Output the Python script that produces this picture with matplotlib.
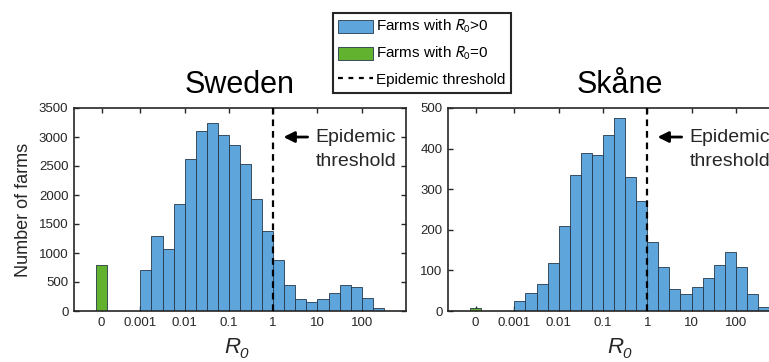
import numpy as np
import matplotlib
matplotlib.use("Agg")
import matplotlib.pyplot as plt
import matplotlib.transforms as mtransforms
from matplotlib.patches import Patch
from matplotlib.lines import Line2D

plt.rcParams['font.family'] = ['Liberation Sans', 'DejaVu Sans']

# histogram counts, bins of width 0.25 in log10(R0) starting at R0 = 0.001
sweden_counts = [700, 1300, 1070, 1840, 2620, 3100, 3250, 3030, 2860, 2530, 1930, 1380,
                 880, 440, 210, 150, 200, 310, 440, 420, 230, 55]
skane_counts = [25, 45, 67, 118, 210, 335, 390, 384, 434, 475, 330, 272,
                169, 109, 53, 41, 58, 82, 113, 145, 109, 41, 11]
sweden_zero = 790
skane_zero = 8

bin_width = 0.25
first_edge = -3.0          # log10(0.001)
zero_edge = -4.0           # where the R0=0 bar is drawn
threshold = 0.0            # log10(1)

tick_pos = [-3.875, -3, -2, -1, 0, 1, 2]
tick_labels = ['0', '0.001', '0.01', '0.1', '1', '10', '100']

blue = '#5DA5DA'
green = '#62B22F'
edge = '#24374A'
dark = '#262626'
dash = (0, (3, 2.2))

fig = plt.figure(figsize=(7.69, 3.62), dpi=100)
ax1 = fig.add_axes([74 / 769, 51 / 362, 332 / 769, 203 / 362])
ax2 = fig.add_axes([448 / 769, 51 / 362, 344 / 769, 203 / 362])


def r0_label(ax, xfrac):
    # italic R with italic subscript 0, drawn as two texts
    base = ax.transAxes
    ax.text(xfrac, -0.205, 'R', transform=mtransforms.offset_copy(base, fig, x=2, y=0, units='dots'),
            fontsize=16, fontstyle='italic', ha='right', va='baseline', color=dark,
            clip_on=False)
    ax.text(xfrac, -0.205, '0', transform=mtransforms.offset_copy(base, fig, x=1, y=-5, units='dots'),
            fontsize=11, fontstyle='italic', ha='left', va='baseline', color=dark,
            clip_on=False)


def draw_panel(ax, counts, zero_count, ymax, ystep, title, xmax, xlab):
    left = first_edge + bin_width * np.arange(len(counts))
    ax.bar(left, counts, width=bin_width, align='edge', color=blue,
           edgecolor=edge, linewidth=0.6, zorder=2)
    ax.bar([zero_edge], [zero_count], width=bin_width, align='edge', color=green,
           edgecolor=edge, linewidth=0.6, zorder=2)
    ax.axvline(threshold, color='black', linestyle=dash, linewidth=1.6, zorder=3)
    ax.set_xlim(-4.5, xmax)
    ax.set_ylim(0, ymax)
    ax.set_xticks(tick_pos)
    ax.set_xticklabels(tick_labels)
    ax.set_yticks(np.arange(0, ymax + 1, ystep))
    ax.tick_params(direction='in', length=3.5, width=1.0, colors=dark,
                   labelsize=9.5, top=True, right=True, pad=4)
    for s in ax.spines.values():
        s.set_linewidth(1.2)
        s.set_color(dark)
    ax.set_title(title, fontsize=22, pad=11, color='black')
    r0_label(ax, xlab)
    tr = ax.get_xaxis_transform()
    ax.annotate('', xy=(threshold + 0.17, 0.857), xytext=(threshold + 0.84, 0.857),
                xycoords=tr, textcoords=tr,
                arrowprops=dict(arrowstyle='-|>', color='black', lw=2.0,
                                mutation_scale=16))
    ax.text(threshold + 0.95, 0.857, 'Epidemic', transform=tr, fontsize=14,
            va='center', ha='left', color=dark)
    ax.text(threshold + 0.95, 0.734, 'threshold', transform=tr, fontsize=14,
            va='center', ha='left', color=dark)


draw_panel(ax1, sweden_counts, sweden_zero, 3500, 500, 'Sweden', 3.0, 0.495)
draw_panel(ax2, skane_counts, skane_zero, 500, 100, 'Skåne', 3.27, 0.505)
ax1.set_ylabel('Number of farms', fontsize=13, labelpad=5, color=dark)

handles = [Patch(facecolor=blue, edgecolor=edge, linewidth=0.6),
           Patch(facecolor=green, edgecolor=edge, linewidth=0.6),
           Line2D([0], [0], color='black', linestyle=(0, (2.2, 2.5)), linewidth=1.6)]
labels = [r'Farms with $R_0$>0', r'Farms with $R_0$=0', 'Epidemic threshold']
leg = fig.legend(handles, labels, loc='upper left',
                 bbox_to_anchor=(333 / 769, 1 - 13 / 362), borderaxespad=0,
                 fontsize=11, fancybox=False, edgecolor=dark, framealpha=1,
                 handlelength=2.3, handleheight=0.95, handletextpad=0.15,
                 borderpad=0.35, labelspacing=0.65)
leg.get_frame().set_linewidth(1.5)
for t in leg.get_texts():
    t.set_math_fontfamily('stixsans')

fig.savefig('out.png', dpi=100)
